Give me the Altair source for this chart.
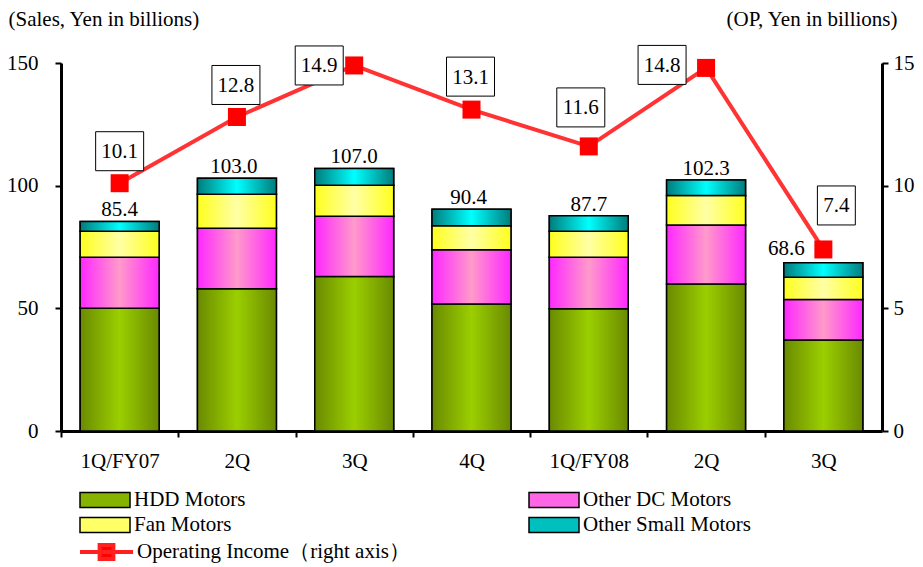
import altair as alt
import pandas as pd

# ---------------- data ----------------
quarter_keys = ["1Q/FY07", "2Q/FY07", "3Q/FY07", "4Q/FY07", "1Q/FY08", "2Q/FY08", "3Q/FY08"]
series_names = ["HDD Motors", "Other DC Motors", "Fan Motors", "Other Small Motors"]
legend_order = ["HDD Motors", "Fan Motors", "Other DC Motors", "Other Small Motors"]
hdd = [50.0, 58.0, 63.0, 51.8, 49.8, 59.9, 37.1]
other_dc = [20.8, 24.6, 24.5, 22.1, 21.0, 24.1, 16.5]
fan = [10.6, 13.9, 12.7, 9.8, 10.6, 12.0, 9.1]
other_small = [4.0, 6.5, 6.8, 6.7, 6.3, 6.3, 5.9]
sales_total = [85.4, 103.0, 107.0, 90.4, 87.7, 102.3, 68.6]
op_income = [10.1, 12.8, 14.9, 13.1, 11.6, 14.8, 7.4]
op_name = "Operating Income\uff08right axis\uff09"

# ---------------- layout (pixels) ----------------
W, H = 821, 368
op_box_dx = [0, -1, -35, -1, -8, -44, 13]
op_box_dy = [-32, -32, 0, -33, -39, -3, -44]
sales_dx = [0, -3, 0, -3, 0, 0, -37]
sales_dy = [-5, -5, -5, -5, -5, -5, -8]

FONT = "Times New Roman, Liberation Serif, Tinos, DejaVu Serif, serif"
FS = 21
N = len(quarter_keys)
step = W / N
PAD_IN = 0.327

rows = []
for i, q in enumerate(quarter_keys):
    for k, (s, vals) in enumerate(zip(series_names, [hdd, other_dc, fan, other_small])):
        rows.append({"qkey": q, "series": s, "order": k, "value": vals[i]})
bars_df = pd.DataFrame(rows)

sales_df = pd.DataFrame({"qkey": quarter_keys, "idx": list(range(N)), "total": sales_total,
                         "dx": sales_dx, "dy": sales_dy})
op_df = pd.DataFrame({"qkey": quarter_keys, "idx": list(range(N)), "op": op_income,
                      "dx": op_box_dx, "dy": op_box_dy, "name": [op_name] * N})

grad_cols = {
    "HDD Motors": ("#6A8A00", "#9BCF00"),
    "Other DC Motors": ("#FF28FF", "#FF9ACB"),
    "Fan Motors": ("#FFFF1E", "#FFFFA6"),
    "Other Small Motors": ("#007C7C", "#00FFFF"),
}
flat_cols = ["#86B300", "#FFFF66", "#FF66E6", "#00BFBF"]

X = alt.X("qkey:N", sort=quarter_keys,
          scale=alt.Scale(domain=quarter_keys, paddingInner=PAD_IN, paddingOuter=PAD_IN / 2),
          axis=alt.Axis(title=None, domainColor="black", domainWidth=3, tickColor="black",
                        tickWidth=2, tickSize=6, bandPosition=0.5, tickOffset=-step / 2,
                        labelOffset=step / 2, labelPadding=13, labelFontSize=FS,
                        labelColor="black", labelAngle=0,
                        labelExpr="indexof(datum.label, '1Q') == 0 ? datum.label : split(datum.label, '/')[0]"))


def xq(field):
    return alt.X(field, scale=alt.Scale(domain=[-0.5, N - 0.5], nice=False, zero=False),
                 axis=None)


left_axis = alt.Axis(values=[0, 50, 100, 150], grid=False, domainColor="black", domainWidth=3,
                     tickColor="black", tickWidth=2, tickSize=6, labelPadding=17,
                     labelFontSize=FS, labelColor="black",
                     title="(Sales, Yen in billions)", titleAngle=0, titleAlign="left",
                     titleBaseline="middle", titleX=-53, titleY=-44, titleFontSize=FS,
                     titleFontWeight="normal", titleColor="black")
right_axis = alt.Axis(values=[0, 5, 10, 15], grid=False, orient="right", domainColor="black",
                      domainWidth=3, tickColor="black", tickWidth=2, tickSize=6, labelPadding=5,
                      labelFontSize=FS, labelColor="black",
                      title="(OP, Yen in billions)", titleAngle=0, titleAlign="right",
                      titleBaseline="middle", titleX=15, titleY=-44, titleFontSize=FS,
                      titleFontWeight="normal", titleColor="black")


def yl(field, axis=left_axis):
    return alt.Y(field, scale=alt.Scale(domain=[0, 150], nice=False), axis=axis)


def yr(field):
    return alt.Y(field, scale=alt.Scale(domain=[0, 15], nice=False), axis=right_axis)


# ---------------- bars (left axis) ----------------
rect_path = "M-1,-0.3H1V0.3H-1Z"
base = alt.Chart(bars_df).transform_stack(
    stack="value", groupby=["qkey"], as_=["y0", "y1"],
    sort=[alt.SortField("order", order="ascending")])

flat = base.mark_bar(stroke="black", strokeWidth=1.5).encode(
    x=X, y=yl("y0:Q"), y2="y1:Q",
    fill=alt.Fill("series:N", scale=alt.Scale(domain=legend_order, range=flat_cols),
                  legend=alt.Legend(orient="none", legendX=18, legendY=424.5, columns=2,
                                    title=None, symbolType=rect_path, symbolSize=2500,
                                    symbolStrokeColor="black", symbolStrokeWidth=1.5,
                                    clipHeight=25, rowPadding=0, columnPadding=282,
                                    labelFontSize=FS, labelFont=FONT, labelColor="black",
                                    labelOffset=3, labelLimit=400, padding=0)))

grad_layers = []
for s in series_names:
    dark, light = grad_cols[s]
    g = alt.Gradient(gradient="linear", x1=0, x2=1, y1=0, y2=0,
                     stops=[alt.GradientStop(color=dark, offset=0),
                            alt.GradientStop(color=light, offset=0.5),
                            alt.GradientStop(color=dark, offset=1)])
    grad_layers.append(
        base.transform_filter(alt.datum.series == s)
        .mark_bar(fill=g, stroke="black", strokeWidth=1.5)
        .encode(x=X, y=yl("y0:Q"), y2="y1:Q"))

bars = alt.layer(flat, *grad_layers)

# ---------------- sales totals ----------------
sales_text = alt.Chart(sales_df).transform_calculate(
    tx=f"datum.idx + datum.dx / {step}",
    ty=f"datum.total - datum.dy * 150 / {H}",
).mark_text(fontSize=FS, font=FONT, color="black", baseline="alphabetic").encode(
    x=xq("tx:Q"), y=yl("ty:Q", axis=None), text=alt.Text("total:Q", format=".1f"))

# ---------------- operating income (right axis) ----------------
op_path = "M-1,0H1M-0.26,-0.26H0.26V0.26H-0.26Z"
line = alt.Chart(op_df).mark_line(color="#FF3333", strokeWidth=4).encode(
    x=xq("idx:Q"), y=yr("op:Q"))
squares = alt.Chart(op_df).mark_square(size=324, filled=True, opacity=1).encode(
    x=xq("idx:Q"), y=yr("op:Q"),
    color=alt.Color("name:N", scale=alt.Scale(domain=[op_name], range=["#FF0000"]),
                    legend=alt.Legend(orient="none", legendX=17, legendY=476.5, title=None,
                                      symbolType=op_path, symbolSize=2809,
                                      symbolStrokeColor="#FF2020", symbolStrokeWidth=4,
                                      clipHeight=25, labelFontSize=FS, labelFont=FONT,
                                      labelColor="black", labelOffset=2, labelLimit=400,
                                      padding=0)))

box_w4 = "M-1,-0.8125H1V0.8125H-1Z"
box_w3 = "M-0.79,-0.8125H0.79V0.8125H-0.79Z"
op_boxed = alt.Chart(op_df).transform_calculate(
    tx=f"datum.idx + datum.dx / {step}",
    ty=f"datum.op - datum.dy * 15 / {H}",
    nchar="length(format(datum.op, '.1f'))")
boxes = op_boxed.mark_point(filled=True, fill="white", stroke="black", strokeWidth=1,
                            size=2304, opacity=1).encode(
    x=xq("tx:Q"), y=yr("ty:Q"),
    shape=alt.Shape("nchar:N", scale=alt.Scale(domain=[3, 4], range=[box_w3, box_w4]),
                    legend=None))
op_text = op_boxed.mark_text(fontSize=FS, font=FONT, color="black", baseline="middle",
                             dy=1).encode(
    x=xq("tx:Q"), y=yr("ty:Q"), text=alt.Text("op:Q", format=".1f"))

right = alt.layer(line, squares, boxes, op_text)

chart = alt.layer(bars, sales_text, right).resolve_scale(
    x="independent", y="independent"
).properties(
    width=W, height=H, autosize="none",
    padding={"left": 53, "top": 55, "right": 33, "bottom": 136},
).configure_view(stroke=None).configure_axis(
    labelFont=FONT, titleFont=FONT
).configure_text(font=FONT).configure_legend(labelFont=FONT)

chart.save("out.html", embed_options={"renderer": "svg", "actions": False})
